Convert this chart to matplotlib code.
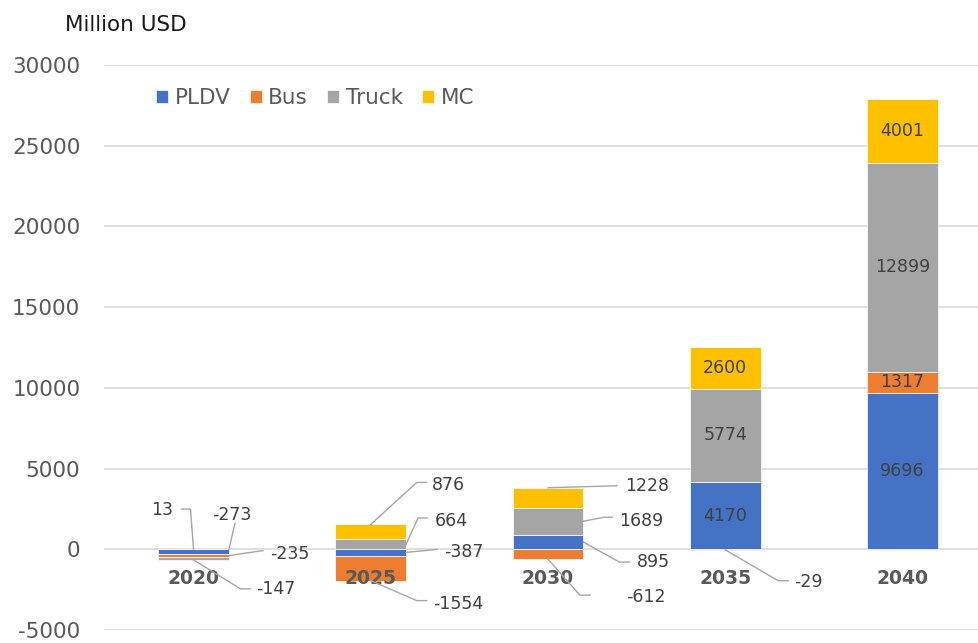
import numpy as np
import matplotlib.pyplot as plt

years = ["2020", "2025", "2030", "2035", "2040"]
series = ["PLDV", "Bus", "Truck", "MC"]
pldv = [-273, -387, 895, 4170, 9696]
bus = [-235, -1554, -612, -29, 1317]
truck = [-147, 664, 1689, 5774, 12899]
mc = [13, 876, 1228, 2600, 4001]
colors = ["#4472C4", "#ED7D31", "#A5A5A5", "#FFC000"]

values = [pldv, bus, truck, mc]

# callout labels: (series idx, year idx) -> anchor, elbow, end, text offset (pixels, y up), ha
callouts = {
    (3, 0): ("top", (-3, 40), (-12, 40), (-20, 39), "right"),
    (0, 0): ("topright", (6, 26), (6, 26), (3, 34), "center"),
    (1, 0): ("right", (34, 5), (34, 5), (41, 2), "left"),
    (2, 0): ("bottom", (47, -29), (57, -29), (63, -29), "left"),
    (3, 1): ("top", (46, 42), (56, 42), (61, 39), "left"),
    (2, 1): ("right", (12, 26), (21, 26), (29, 23), "left"),
    (0, 1): ("right", (31, 3), (31, 3), (38, 0), "left"),
    (1, 1): ("bottom", (46, -20), (56, -20), (62, -23), "left"),
    (3, 2): ("top", (69, 2), (69, 2), (77, 2), "left"),
    (2, 2): ("right", (21, 4), (29, 4), (36, 0), "left"),
    (0, 2): ("right", (36, -20), (46, -20), (53, -20), "left"),
    (1, 2): ("bottom", (32, -36), (42, -36), (78, -38), "left"),
    (1, 3): ("bottom", (53, -31), (63, -31), (69, -32), "left"),
}

plt.rcParams['font.family'] = ['DejaVu Sans']
plt.rcParams['axes.unicode_minus'] = False
fig = plt.figure(figsize=(9.79, 6.43), dpi=100)
ax = fig.add_axes([104 / 979, 1 - 630 / 643, 1 - 104 / 979, (630 - 65) / 643])

x = np.arange(len(years))
width = 0.4
pos_base = np.zeros(len(years))
neg_base = np.zeros(len(years))
segs = {}
for si, (name, vals, c) in enumerate(zip(series, values, colors)):
    vals = np.array(vals, dtype=float)
    bottoms = np.where(vals >= 0, pos_base, neg_base)
    ax.bar(x, vals, width, bottom=bottoms, color=c, label=name,
           edgecolor="white", linewidth=0.5, zorder=3)
    for yi in range(len(years)):
        segs[(si, yi)] = (bottoms[yi], bottoms[yi] + vals[yi])
    pos_base = pos_base + np.where(vals >= 0, vals, 0)
    neg_base = neg_base + np.where(vals < 0, vals, 0)

ax.set_xlim(-0.505, 4.432)
ax.set_ylim(-5000, 30000)
ax.set_yticks(np.arange(-5000, 30001, 5000))
ax.grid(axis="y", color="#d9d9d9", linewidth=1.2, zorder=0)
ax.set_xticks([])
ax.tick_params(axis="y", length=0, pad=17, labelsize=15.5, labelcolor="#595959")
for s in ax.spines.values():
    s.set_visible(False)

for yi, yr in enumerate(years):
    ax.text(x[yi], -1800, yr, ha="center", va="center", fontsize=13.5,
            fontweight="bold", color="#595959")

fig.canvas.draw()
to_disp = ax.transData.transform
to_data = ax.transData.inverted().transform

for (si, yi), (lo, hi) in segs.items():
    v = values[si][yi]
    if (si, yi) in callouts:
        anchor, elbow, end, toff, ha = callouts[(si, yi)]
        top, bot = max(lo, hi), min(lo, hi)
        if anchor == "top":
            ap = (x[yi], top)
        elif anchor == "bottom":
            ap = (x[yi], bot)
        elif anchor == "topright":
            ap = (x[yi] + width / 2, top)
        else:
            ap = (x[yi] + width / 2, (lo + hi) / 2)
        a = to_disp(ap)
        pts = to_data(np.array([a, a + np.array(elbow), a + np.array(end)]))
        ax.plot(pts[:, 0], pts[:, 1], color="#a6a6a6", linewidth=1, zorder=4)
        tp = to_data(a + np.array(toff))
        ax.text(tp[0], tp[1], str(v), ha=ha, va="center", fontsize=12.5,
                color="#404040", zorder=5)
    else:
        ax.text(x[yi], (lo + hi) / 2, str(v), ha="center", va="center",
                fontsize=12.5, color="#404040", zorder=5)

fig.text(65 / 979, 1 - 25 / 643, "Million USD", ha="left", va="center",
         fontsize=15.5, color="#1a1a1a")

fig.legend(loc="upper left", bbox_to_anchor=(156 / 979, 1 - 88 / 643), ncol=4,
           frameon=False, fontsize=15.5, handlelength=0.56, handleheight=0.56,
           handletextpad=0.3, columnspacing=0.9, borderpad=0, borderaxespad=0,
           labelcolor="#595959")

fig.savefig("out.png", dpi=100)
